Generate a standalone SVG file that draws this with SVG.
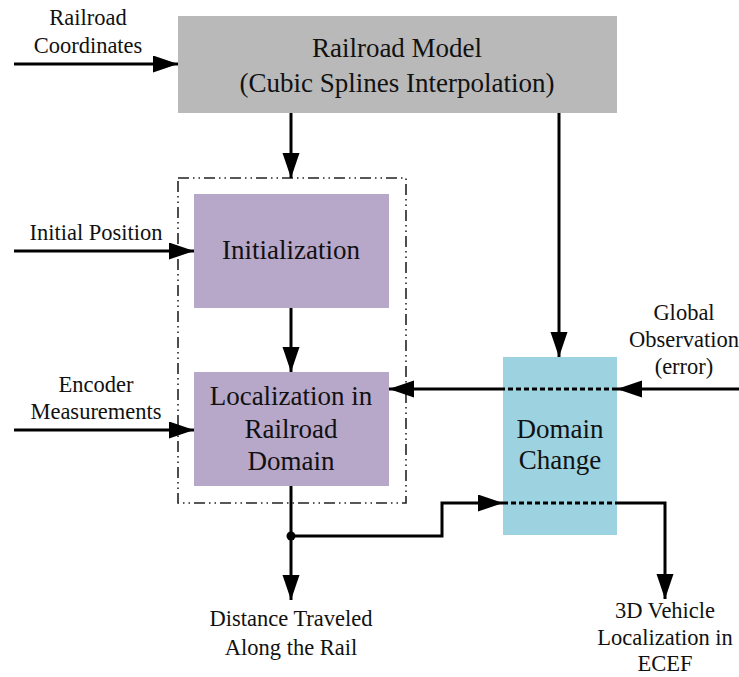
<svg xmlns="http://www.w3.org/2000/svg" width="739" height="677" viewBox="0 0 739 677">
<style>
text{fill:#111;text-anchor:middle}
.lbl{font-size:22.5px}
.big{font-size:27px}
.ln{stroke:#000;stroke-width:3;fill:none}
.dot{stroke:#000;stroke-width:3;fill:none;stroke-dasharray:5 3}
.arr{marker-end:url(#ah)}
</style>
<defs>
<marker id="ah" markerUnits="userSpaceOnUse" markerWidth="26" markerHeight="18" refX="25" refY="8.5" orient="auto">
<path d="M0,0 L25,8.5 L0,17 Z" fill="#000"/>
</marker>
</defs>
<rect width="739" height="677" fill="#fff"/>
<g id="container">
<rect x="178" y="178" width="228" height="325" fill="none" stroke="#222" stroke-width="1.6" stroke-dasharray="11 4 1.5 4 1.5 4"/>
</g>
<g font-family="'Liberation Serif', 'DejaVu Serif', serif">
<g id="railroad-model">
<rect x="178" y="16" width="439" height="97" fill="#b9b9b9"/>
<text class="big" x="397" y="57">Railroad Model</text>
<text class="big" x="397" y="92">(Cubic Splines Interpolation)</text>
</g>
<g id="initialization">
<rect x="194" y="194" width="195" height="114" fill="#b7a7c9"/>
<text class="big" x="291" y="259">Initialization</text>
</g>
<g id="localization">
<rect x="194" y="372" width="195" height="114" fill="#b7a7c9"/>
<text class="big" x="291" y="405">Localization in</text>
<text class="big" x="291" y="438">Railroad</text>
<text class="big" x="291" y="470">Domain</text>
</g>
<g id="domain-change">
<rect x="503" y="357" width="114" height="178" fill="#9dd2e0"/>
<text class="big" x="560" y="438">Domain</text>
<text class="big" x="560" y="469">Change</text>
</g>
<g id="labels">
<text class="lbl" x="88" y="25">Railroad</text>
<text class="lbl" x="88" y="53">Coordinates</text>
<text class="lbl" x="96" y="240">Initial Position</text>
<text class="lbl" x="96" y="392">Encoder</text>
<text class="lbl" x="96" y="419">Measurements</text>
<text class="lbl" x="684" y="320">Global</text>
<text class="lbl" x="684" y="347">Observation</text>
<text class="lbl" x="684" y="374">(error)</text>
<text class="lbl" x="291" y="626">Distance Traveled</text>
<text class="lbl" x="291" y="655">Along the Rail</text>
<text class="lbl" x="665" y="618">3D Vehicle</text>
<text class="lbl" x="665" y="645">Localization in</text>
<text class="lbl" x="665" y="671">ECEF</text>
</g>
</g>
<g id="connectors">
<path class="ln arr" d="M14,64 H178"/>
<path class="ln arr" d="M291,113 V178"/>
<path class="ln arr" d="M559,113 V357"/>
<path class="ln arr" d="M14,251 H194"/>
<path class="ln arr" d="M291,308 V372"/>
<path class="ln arr" d="M14,430 H194"/>
<path class="ln arr" d="M739,389 H617"/>
<path class="dot" d="M617,389 H503"/>
<path class="ln arr" d="M503,389 H389"/>
<path class="ln arr" d="M291,486 V600"/>
<circle cx="291" cy="536" r="4.5" fill="#000"/>
<path class="ln arr" d="M291,536 H442 V503 H503"/>
<path class="dot" d="M503,503 H617"/>
<path class="ln arr" d="M617,503 H665 V599"/>
</g>
</svg>
